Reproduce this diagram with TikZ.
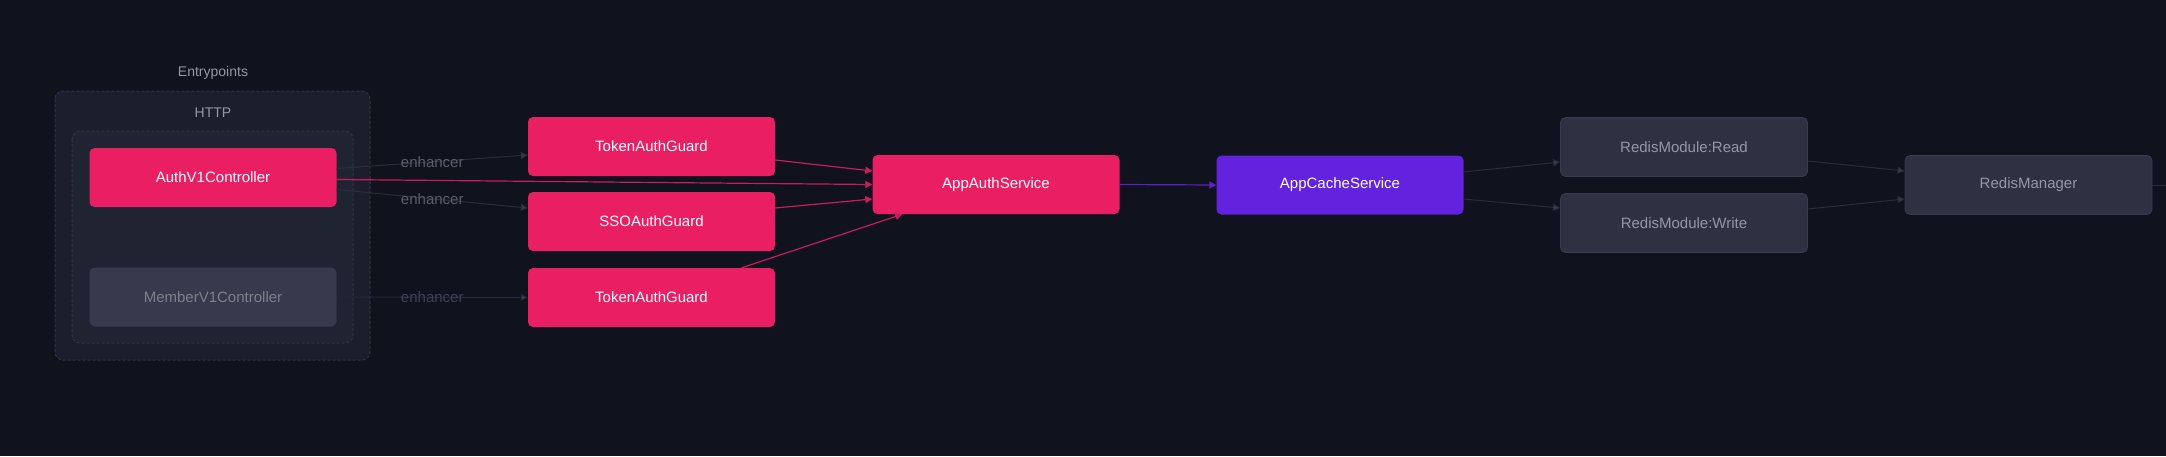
\documentclass[tikz,border=0pt]{standalone}
\usepackage{fontspec}
\setmainfont{Liberation Sans}
\usetikzlibrary{arrows.meta}
\definecolor{bgcol}{HTML}{10121D}
\definecolor{outercol}{HTML}{1B1E2C}
\definecolor{innercol}{HTML}{202332}
\definecolor{clusterline}{HTML}{2F3345}
\definecolor{pinkcol}{HTML}{E91E63}
\definecolor{pinkline}{HTML}{C81D5A}
\definecolor{purplecol}{HTML}{6222DE}
\definecolor{purpleline}{HTML}{5B21C8}
\definecolor{greynode}{HTML}{2F3142}
\definecolor{greyborder}{HTML}{393C4E}
\definecolor{membernode}{HTML}{373A4C}
\definecolor{greytext}{HTML}{9597A6}
\definecolor{greyline}{HTML}{2A2D3B}
\definecolor{dimline}{HTML}{24273A}
\definecolor{labeltext}{HTML}{5A5D6C}
\definecolor{dimtext}{HTML}{3E4151}
\begin{document}
\begin{tikzpicture}[x=1pt,y=-1pt,
  box/.style={rectangle,rounded corners=5pt,minimum width=247pt,minimum height=59pt,inner sep=0pt,font=\fontsize{15}{18}\selectfont},
  pinkbox/.style={box,fill=pinkcol,text=white},
  greybox/.style={box,fill=greynode,draw=greyborder,line width=0.8pt,text=greytext},
  cluster/.style={draw=clusterline,dash pattern=on 3pt off 2pt,rounded corners=8pt,line width=1pt},
  pinkedge/.style={pinkline,line width=1.2pt,-{Triangle[length=7pt,width=7pt]}},
  greyedge/.style={greyline,line width=1pt,-{Triangle[length=7pt,width=7pt,fill=greyborder]}},
  enh/.style={midway,text=labeltext,font=\fontsize{15}{18}\selectfont}]
\fill[bgcol] (0,0) rectangle (2166,456);
\useasboundingbox (0,0) rectangle (2166,456);

\draw[cluster,fill=outercol] (55,91) rectangle (370,360);
\draw[cluster,fill=innercol] (72,131) rectangle (353,343);
\node[text=greytext,font=\fontsize{14}{17}\selectfont] (EntryLbl) at (213,73) {Entrypoints};
\node[text=greytext,font=\fontsize{14}{17}\selectfont] (HttpLbl) at (213,113) {HTTP};

\node[pinkbox] (Auth) at (213,177.5) {AuthV1Controller};
\node[box,fill=membernode,text=greytext!85!black] (Member) at (213,297) {MemberV1Controller};
\node[pinkbox] (TokA) at (651.5,146.5) {TokenAuthGuard};
\node[pinkbox] (SSO) at (651.5,221.5) {SSOAuthGuard};
\node[pinkbox] (TokB) at (651.5,297.5) {TokenAuthGuard};
\node[pinkbox] (AppAuth) at (996,184.5) {AppAuthService};
\node[box,fill=purplecol,text=white] (AppCache) at (1340,185) {AppCacheService};
\node[greybox] (RRead) at (1684,147) {RedisModule:Read};
\node[greybox] (RWrite) at (1684,223) {RedisModule:Write};
\node[greybox] (RMgr) at (2028.5,185) {RedisManager};
\coordinate (Out) at (2166,185);

\draw[greyedge] ([yshift=9pt]Auth.east)--([yshift=-8.5pt]TokA.west) node[enh]{enhancer};
\draw[greyedge] ([yshift=-12pt]Auth.east)--([yshift=13.5pt]SSO.west) node[enh]{enhancer};
\draw[greyedge,dimline] (Member.east)--(TokB.west) node[enh,text=dimtext]{enhancer};
\draw[pinkedge] ([yshift=-2pt]Auth.east)--(AppAuth.west);
\draw[pinkedge] ([yshift=-13.5pt]TokA.east)--([yshift=13.5pt]AppAuth.west);
\draw[pinkedge] ([yshift=13.5pt]SSO.east)--([yshift=-14.5pt]AppAuth.west);
\draw[pinkedge] ([xshift=90pt]TokB.north)--([xshift=30pt]AppAuth.south west);
\draw[pinkedge,purpleline] (AppAuth.east)--(AppCache.west);
\draw[greyedge] ([yshift=13pt]AppCache.east)--([yshift=-15pt]RRead.west);
\draw[greyedge] ([yshift=-14pt]AppCache.east)--([yshift=15pt]RWrite.west);
\draw[greyedge] ([yshift=-14pt]RRead.east)--([yshift=14pt]RMgr.west);
\draw[greyedge] ([yshift=14pt]RWrite.east)--([yshift=-14pt]RMgr.west);
\draw[greyline,line width=1pt] (RMgr.east)--(Out);
\end{tikzpicture}
\end{document}
